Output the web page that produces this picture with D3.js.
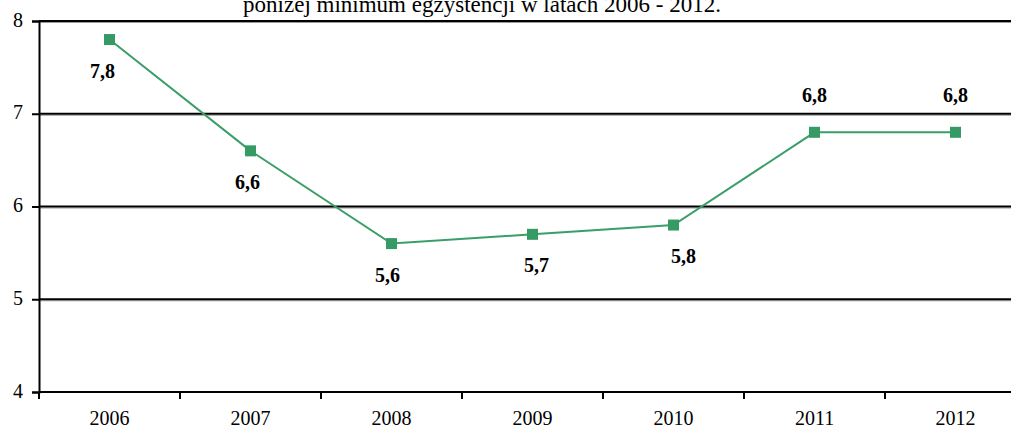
<!DOCTYPE html>
<html>
<head>
<meta charset="utf-8">
<script src="https://cdn.jsdelivr.net/npm/d3@7"></script>
<style>
  body { margin: 0; background: #fff; }
  svg { display: block; }
  text { font-family: "Liberation Serif", "Times New Roman", serif; }
</style>
</head>
<body>
<svg id="chart"></svg>
<script>
// data
var years = ["2006", "2007", "2008", "2009", "2010", "2011", "2012"];
var values = [7.8, 6.6, 5.6, 5.7, 5.8, 6.8, 6.8];
var valueLabels = ["7,8", "6,6", "5,6", "5,7", "5,8", "6,8", "6,8"];
var yTicks = [4, 5, 6, 7, 8];
var title = "poniżej minimum egzystencji w latach 2006 - 2012.";

// label placement (style, not data)
var labelSide = ["below", "below", "below", "below", "below", "above", "above"];
var labelDx = [-7, -3, -4, 4, 10, 0, 0];

var svgWidth = 1011, svgHeight = 432;
var plotLeft = 39, plotRight = 1026, plotTop = 21, plotBottom = 392;

var svg = d3.select("#chart")
  .attr("width", svgWidth)
  .attr("height", svgHeight);

var x = d3.scaleBand()
  .domain(years)
  .range([plotLeft, plotRight]);

var y = d3.scaleLinear()
  .domain([4, 8])
  .range([plotBottom, plotTop]);

// title, cut off at top like the original
svg.append("text")
  .attr("x", 482)
  .attr("y", 12)
  .attr("text-anchor", "middle")
  .attr("font-size", "23px")
  .attr("fill", "#000")
  .text(title);

// gridlines
var grid = svg.append("g");
grid.selectAll("line.shade")
  .data(yTicks.slice(1))
  .enter().append("line")
  .attr("class", "shade")
  .attr("x1", plotLeft).attr("x2", svgWidth)
  .attr("y1", function (d) { return y(d) + 1.5 })
  .attr("y2", function (d) { return y(d) + 1.5 })
  .attr("stroke", "#999")
  .attr("stroke-width", 1);
grid.selectAll("line.main")
  .data(yTicks.slice(1))
  .enter().append("line")
  .attr("class", "main")
  .attr("x1", plotLeft).attr("x2", svgWidth)
  .attr("y1", function (d) { return y(d) })
  .attr("y2", function (d) { return y(d) })
  .attr("stroke", "#000")
  .attr("stroke-width", 2);

// y axis
var yAxis = svg.append("g")
  .attr("transform", "translate(" + plotLeft + ",0)")
  .call(d3.axisLeft(y).tickValues(yTicks).tickSize(7).tickPadding(9).tickFormat(d3.format("d")));
yAxis.select(".domain").attr("stroke", "#000").attr("stroke-width", 2);
yAxis.selectAll(".tick line").attr("stroke", "#000").attr("stroke-width", 2);
yAxis.selectAll(".tick text")
  .attr("font-family", "Liberation Serif, serif")
  .attr("font-size", "20px")
  .attr("dy", "0.25em")
  .attr("fill", "#000");

// x axis with ticks between categories
var xAxis = svg.append("g")
  .attr("transform", "translate(0," + plotBottom + ")")
  .call(d3.axisBottom(x).tickSize(0).tickPadding(19));
xAxis.select(".domain").remove();
xAxis.append("line")
  .attr("x1", plotLeft).attr("x2", svgWidth)
  .attr("stroke", "#000").attr("stroke-width", 2);
xAxis.selectAll("line.sep")
  .data(years)
  .enter().append("line")
  .attr("class", "sep")
  .attr("x1", function (d) { return x(d) })
  .attr("x2", function (d) { return x(d) })
  .attr("y1", 0).attr("y2", 7)
  .attr("stroke", "#000").attr("stroke-width", 2);
xAxis.selectAll(".tick text")
  .attr("font-family", "Liberation Serif, serif")
  .attr("font-size", "20px")
  .attr("fill", "#000");

// line
var line = d3.line()
  .x(function (d, i) { return x(years[i]) + x.bandwidth() / 2 })
  .y(function (d) { return y(d) });

svg.append("path")
  .datum(values)
  .attr("fill", "none")
  .attr("stroke", "#3a9e68")
  .attr("stroke-width", 2)
  .attr("d", line);

svg.selectAll("rect.marker")
  .data(values)
  .enter().append("rect")
  .attr("class", "marker")
  .attr("x", function (d, i) { return x(years[i]) + x.bandwidth() / 2 - 5.5 })
  .attr("y", function (d) { return y(d) - 5.5 })
  .attr("width", 11)
  .attr("height", 11)
  .attr("fill", "#359a63");

svg.selectAll("text.value")
  .data(values)
  .enter().append("text")
  .attr("class", "value")
  .attr("x", function (d, i) { return x(years[i]) + x.bandwidth() / 2 + labelDx[i] })
  .attr("y", function (d, i) { return y(d) + (labelSide[i] === "above" ? -30 : 38) })
  .attr("text-anchor", "middle")
  .attr("font-size", "20px")
  .attr("font-weight", "bold")
  .attr("fill", "#000")
  .text(function (d, i) { return valueLabels[i] });
</script>
</body>
</html>
